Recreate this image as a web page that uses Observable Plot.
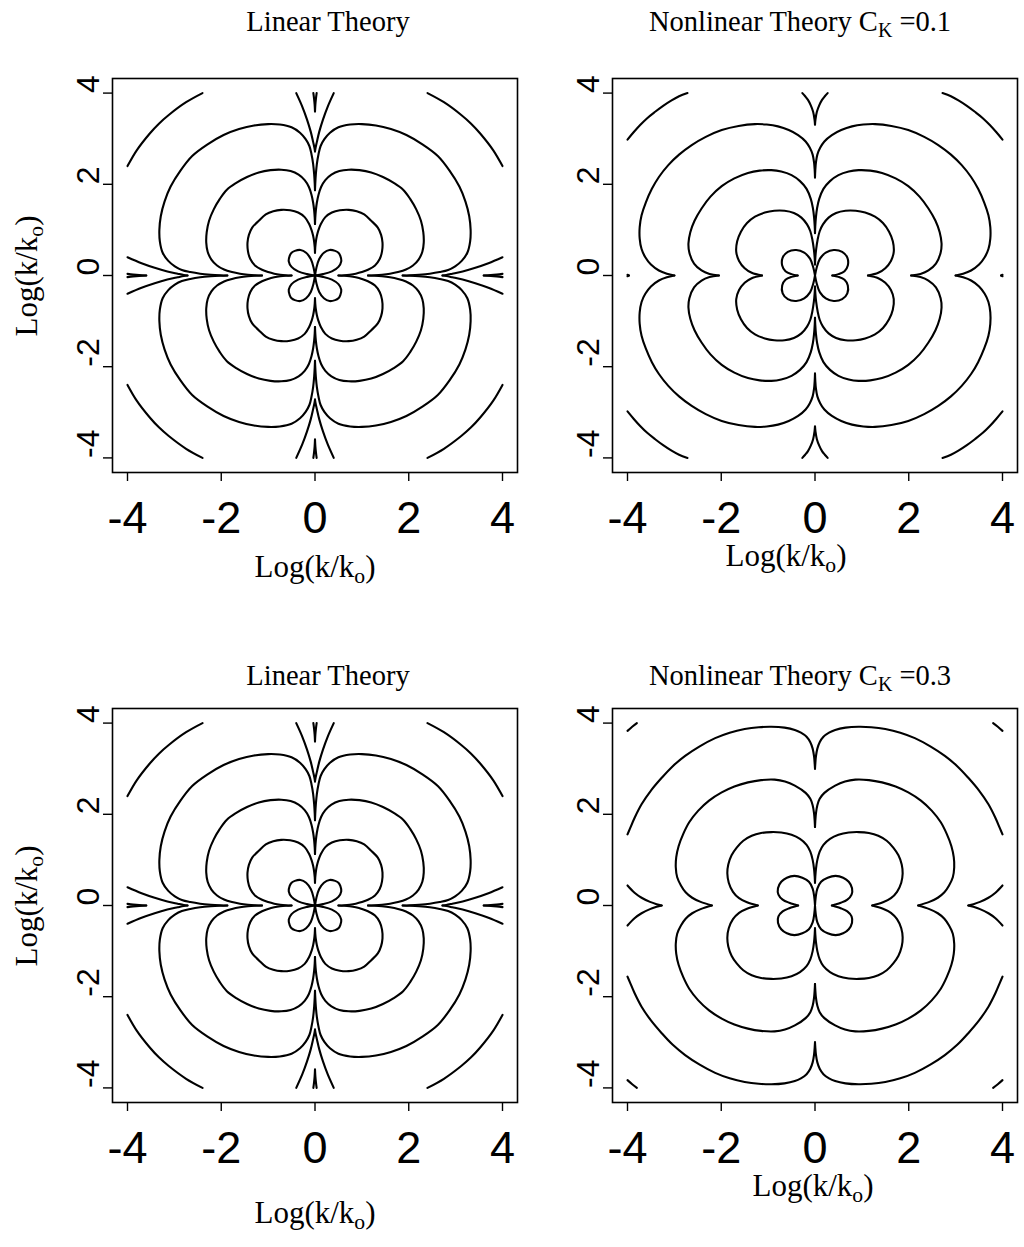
<!DOCTYPE html>
<html>
<head>
<meta charset="utf-8">
<script src="https://cdn.jsdelivr.net/npm/d3@7"></script>
<script src="https://cdn.jsdelivr.net/npm/@observablehq/plot@0.6"></script>
<style>
  html, body { margin: 0; padding: 0; background: #fff; }
  #page { position: relative; width: 1024px; height: 1247px; overflow: hidden; background: #fff; }
  .panel { position: absolute; }
  .lbl { position: absolute; font-family: "Liberation Serif", "Times New Roman", serif; font-size: 28.5px;
         line-height: 1; white-space: nowrap; color: #000; transform: translate(-50%, -50%); }
  .lbl.axis { font-size: 31px; }
  .lbl sub { font-size: 0.7em; vertical-align: -0.3em; line-height: 0; }
  .lbl.rot { transform: translate(-50%, -50%) rotate(-90deg); }
</style>
</head>
<body>
<div id="page"></div>
<script>
// Tick values shared by both axes of every panel
const ticks = [-4, -2, 0, 2, 4];

// Contour lines of the spectrum in the first quadrant (|x|, |y|), in Log(k/ko) units.
// Each panel is symmetric about both axes, so each curve is reflected into all four quadrants.
const linearContours = [
  [[0,0],[0.03,0.17],[0.09,0.36],[0.19,0.50],[0.31,0.56],[0.43,0.54],[0.50,0.50],[0.54,0.43],[0.56,0.31],[0.50,0.19],[0.36,0.09],[0.17,0.03],[0,0]],
  [[0,0.50],[0.006,0.62],[0.018,0.74],[0.04,0.87],[0.075,1.00],[0.125,1.13],[0.22,1.28],[0.36,1.38],[0.53,1.43],[0.72,1.44],[0.89,1.41],[1.05,1.34],[1.20,1.20],[1.34,1.05],[1.41,0.89],[1.44,0.72],[1.43,0.53],[1.38,0.36],[1.28,0.22],[1.13,0.125],[1.00,0.075],[0.87,0.04],[0.74,0.018],[0.62,0.006],[0.50,0]],
  [[0,1.13],[0.006,1.27],[0.018,1.43],[0.04,1.60],[0.075,1.77],[0.13,1.94],[0.22,2.09],[0.35,2.21],[0.52,2.29],[0.72,2.32],[0.95,2.31],[1.20,2.26],[1.45,2.16],[1.68,2.03],[1.88,1.88],[2.03,1.68],[2.16,1.45],[2.26,1.20],[2.31,0.95],[2.32,0.72],[2.29,0.52],[2.21,0.35],[2.09,0.22],[1.94,0.13],[1.77,0.075],[1.60,0.04],[1.43,0.018],[1.27,0.006],[1.13,0]],
  [[0,1.87],[0.006,2.02],[0.018,2.22],[0.04,2.45],[0.075,2.66],[0.12,2.84],[0.20,2.99],[0.32,3.13],[0.50,3.25],[0.75,3.31],[1.00,3.32],[1.30,3.29],[1.62,3.21],[1.95,3.08],[2.30,2.87],[2.62,2.62],[2.87,2.30],[3.08,1.95],[3.21,1.62],[3.29,1.30],[3.32,1.00],[3.31,0.75],[3.25,0.50],[3.13,0.32],[2.99,0.20],[2.84,0.12],[2.66,0.075],[2.45,0.04],[2.22,0.018],[2.02,0.006],[1.87,0]],
  [[0,2.72],[0.012,2.80],[0.04,2.93],[0.09,3.15],[0.17,3.42],[0.27,3.70],[0.40,4.0]],
  [[2.40,4.0],[2.75,3.80],[3.12,3.52],[3.33,3.33],[3.52,3.12],[3.80,2.75],[4.0,2.40]],
  [[2.72,0],[2.80,0.012],[2.93,0.04],[3.15,0.09],[3.42,0.17],[3.70,0.27],[4.0,0.40]],
  [[0,3.60],[0.008,3.75],[0.02,3.88],[0.035,4.0]],
  [[3.60,0],[3.75,0.008],[3.88,0.02],[4.0,0.035]]
];

const nonlinear01Contours = [
  [[0,0],[0.035,0.17],[0.106,0.37],[0.23,0.50],[0.40,0.56],[0.58,0.52],[0.69,0.39],[0.70,0.22],[0.63,0.095],[0.50,0.03],[0.37,0]],
  [[0,0.24],[0.008,0.40],[0.025,0.58],[0.055,0.78],[0.10,0.97],[0.17,1.12],[0.29,1.27],[0.45,1.37],[0.65,1.42],[0.87,1.42],[1.07,1.38],[1.28,1.29],[1.45,1.15],[1.58,0.96],[1.66,0.75],[1.68,0.52],[1.62,0.32],[1.50,0.16],[1.35,0.06],[1.13,0]],
  [[0,0.93],[0.006,1.08],[0.02,1.28],[0.045,1.48],[0.09,1.68],[0.18,1.90],[0.32,2.07],[0.50,2.20],[0.72,2.28],[0.93,2.31],[1.18,2.30],[1.43,2.25],[1.72,2.13],[1.99,1.96],[2.23,1.73],[2.42,1.47],[2.57,1.20],[2.66,0.95],[2.70,0.70],[2.68,0.50],[2.58,0.26],[2.42,0.11],[2.25,0.035],[2.05,0]],
  [[0,2.15],[0.006,2.30],[0.02,2.48],[0.05,2.65],[0.11,2.80],[0.20,2.94],[0.36,3.08],[0.56,3.19],[0.79,3.27],[1.03,3.31],[1.28,3.32],[1.63,3.28],[1.99,3.19],[2.33,3.04],[2.63,2.86],[2.90,2.65],[3.13,2.42],[3.33,2.16],[3.48,1.90],[3.61,1.60],[3.70,1.32],[3.74,1.06],[3.74,0.81],[3.70,0.58],[3.62,0.40],[3.50,0.24],[3.33,0.11],[3.16,0.04],[3.0,0]],
  [[0,3.31],[0.01,3.42],[0.04,3.59],[0.09,3.73],[0.15,3.85],[0.21,3.93],[0.27,4.0]],
  [[2.72,4.0],[2.90,3.93],[3.06,3.84],[3.24,3.72],[3.41,3.59],[3.58,3.45],[3.73,3.30],[3.87,3.14],[4.0,2.98]],
  [[3.97,0],[4.0,0.015]]
];

const nonlinear03Contours = [
  [[0,0],[0.015,0.18],[0.05,0.37],[0.13,0.52],[0.27,0.61],[0.44,0.65],[0.60,0.61],[0.72,0.52],[0.79,0.38],[0.78,0.24],[0.69,0.13],[0.55,0.06],[0.43,0.02],[0.36,0]],
  [[0,0.50],[0.006,0.62],[0.02,0.80],[0.05,1.00],[0.10,1.18],[0.18,1.33],[0.32,1.46],[0.50,1.55],[0.72,1.60],[0.93,1.61],[1.15,1.59],[1.35,1.53],[1.53,1.42],[1.67,1.27],[1.78,1.10],[1.85,0.90],[1.87,0.70],[1.84,0.50],[1.75,0.30],[1.62,0.16],[1.45,0.07],[1.22,0]],
  [[0,1.72],[0.006,1.84],[0.02,2.02],[0.05,2.20],[0.10,2.34],[0.20,2.47],[0.43,2.63],[0.64,2.72],[0.86,2.76],[1.15,2.75],[1.43,2.70],[1.72,2.61],[1.99,2.48],[2.26,2.30],[2.49,2.08],[2.68,1.83],[2.81,1.57],[2.91,1.30],[2.96,1.06],[2.97,0.84],[2.94,0.62],[2.86,0.44],[2.76,0.29],[2.62,0.17],[2.44,0.08],[2.20,0]],
  [[0,3.0],[0.006,3.10],[0.02,3.27],[0.05,3.44],[0.10,3.58],[0.18,3.70],[0.30,3.79],[0.43,3.85],[0.65,3.90],[0.93,3.92],[1.20,3.91],[1.50,3.87],[1.82,3.79],[2.13,3.67],[2.46,3.49],[2.77,3.28],[3.04,3.05],[3.27,2.80],[3.50,2.52],[3.70,2.22],[3.85,1.92],[3.95,1.68],[4.0,1.56]],
  [[4.0,0.44],[3.85,0.28],[3.70,0.17],[3.52,0.08],[3.38,0.03],[3.27,0]],
  [[3.80,4.0],[3.90,3.92],[4.0,3.83]]
];

// Panel layout: plot-frame position on the page and where its texts sit
const FRAME_W = 405, FRAME_H = 394;
const M = {left: 70, right: 5, top: 10, bottom: 85};
const panels = [
  {contours: linearContours, left: 112, top: 78,
   title: 'Linear Theory', titleAt: [328, 22],
   xlabelAt: [315, 566], ylabelAt: [26, 276]},
  {contours: nonlinear01Contours, left: 612, top: 78,
   title: 'Nonlinear Theory C<sub>K</sub> =0.1', titleAt: [800, 22],
   xlabelAt: [786, 555]},
  {contours: linearContours, left: 112, top: 708,
   title: 'Linear Theory', titleAt: [328, 676],
   xlabelAt: [315, 1212], ylabelAt: [26, 906]},
  {contours: nonlinear03Contours, left: 612, top: 708,
   title: 'Nonlinear Theory C<sub>K</sub> =0.3', titleAt: [800, 676],
   xlabelAt: [813, 1185]}
];

const axisLabel = 'Log(k/k<sub>o</sub>)';
const fmt = d => (d < 0 ? "-" + (-d) : String(d));
const quadrants = [[1, 1], [-1, 1], [1, -1], [-1, -1]];

function mirrored(curves) {
  const rows = [];
  curves.forEach((curve, i) => {
    quadrants.forEach(([sx, sy], q) => {
      curve.forEach(([s, t]) => rows.push({id: i * 4 + q, x: sx * s, y: sy * t}));
    });
  });
  return rows;
}

function contourPanel(curves) {
  return Plot.plot({
    width: FRAME_W + M.left + M.right,
    height: FRAME_H + M.top + M.bottom,
    marginLeft: M.left, marginRight: M.right, marginTop: M.top, marginBottom: M.bottom,
    x: {domain: [-4.32, 4.32], axis: null, label: null},
    y: {domain: [-4.32, 4.32], axis: null, label: null},
    style: {background: "transparent", overflow: "visible"},
    marks: [
      Plot.frame({stroke: "black", strokeWidth: 1.6}),
      Plot.axisX(ticks, {anchor: "bottom", tickSize: 9, fill: "none", label: null, strokeWidth: 1.4}),
      Plot.axisY(ticks, {anchor: "left", tickSize: 9, fill: "none", label: null, strokeWidth: 1.4}),
      Plot.text(ticks, {x: d => d, frameAnchor: "bottom", dy: 60, text: fmt,
        fontSize: 45, fontFamily: "Liberation Sans, Arial, sans-serif", fill: "black"}),
      Plot.text(ticks, {y: d => d, frameAnchor: "left", dx: -24, rotate: -90, text: fmt,
        fontSize: 32, fontFamily: "Liberation Sans, Arial, sans-serif", fill: "black"}),
      Plot.line(mirrored(curves), {x: "x", y: "y", z: "id", curve: "catmull-rom",
        stroke: "black", strokeWidth: 2.1, strokeLinejoin: "round", strokeLinecap: "round"})
    ]
  });
}

const page = document.getElementById("page");
function addLabel(html, [cx, cy], cls) {
  const el = document.createElement("div");
  el.className = "lbl " + cls;
  el.innerHTML = html;
  el.style.left = cx + "px";
  el.style.top = cy + "px";
  page.appendChild(el);
}

for (const p of panels) {
  const svg = contourPanel(p.contours);
  svg.classList.add("panel");
  svg.style.left = (p.left - M.left) + "px";
  svg.style.top = (p.top - M.top) + "px";
  page.appendChild(svg);
  addLabel(p.title, p.titleAt, "title");
  addLabel(axisLabel, p.xlabelAt, "axis");
  if (p.ylabelAt) addLabel(axisLabel, p.ylabelAt, "axis rot");
}
</script>
</body>
</html>
